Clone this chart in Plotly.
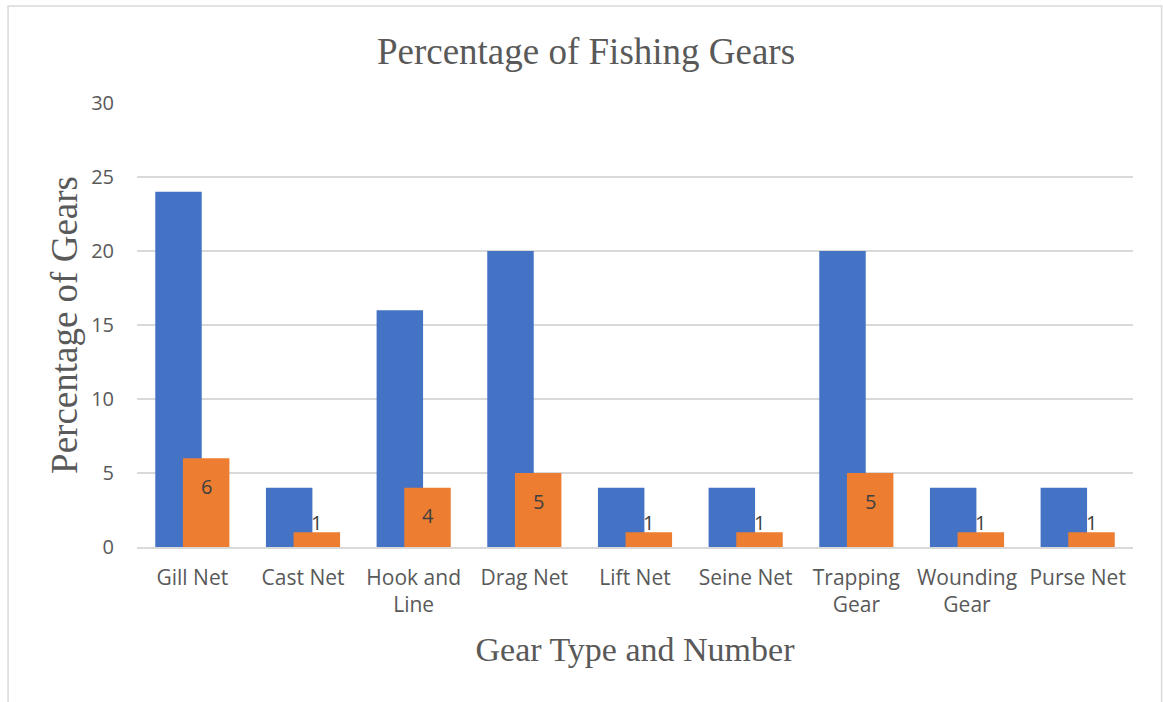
import plotly.graph_objects as go

# Fishing gear survey data
gear_types = ["Gill Net", "Cast Net", "Hook and<br>Line", "Drag Net", "Lift Net",
              "Seine Net", "Trapping<br>Gear", "Wounding<br>Gear", "Purse Net"]
percentages = [24, 4, 16, 20, 4, 4, 20, 4, 4]
gear_counts = [6, 1, 4, 5, 1, 1, 5, 1, 1]

BLUE = "#4472C4"
ORANGE = "#ED7D31"
GRID = "#D9D9D9"
TEXT = "#595959"

BAR_W = 0.42
BLUE_OFF = -0.335
ORANGE_OFF = BLUE_OFF + 2 * 0.335 - BAR_W  # right-aligned so the pair overlaps

fig = go.Figure()
fig.add_trace(go.Bar(
    x=gear_types, y=percentages, name="Percentage",
    marker=dict(color=BLUE, line=dict(width=0)),
    width=BAR_W, offset=BLUE_OFF, hoverinfo="x+y",
))
fig.add_trace(go.Bar(
    x=gear_types, y=gear_counts, name="Number",
    marker=dict(color=ORANGE, line=dict(width=0)),
    width=BAR_W, offset=ORANGE_OFF, hoverinfo="x+y",
))

# Count labels: inside near the top for tall bars, just above for short ones
orange_center_shift = (ORANGE_OFF + BAR_W / 2) * 110.67
for g, c in zip(gear_types, gear_counts):
    fig.add_annotation(
        x=g, y=c, xref="x", yref="y", text=str(c), showarrow=False,
        xshift=orange_center_shift, yshift=-28 if c > 1 else 10,
        font=dict(family="Open Sans", size=20, color="#404040"),
    )

# Light outer frame around the chart area
fig.add_shape(type="rect", xref="paper", yref="paper",
              x0=-0.1295, x1=1.0287, y0=-0.4, y1=1.2185,
              line=dict(color=GRID, width=1.5), fillcolor="rgba(0,0,0,0)", layer="below")

fig.update_layout(
    width=1163, height=702,
    barmode="overlay",
    showlegend=False,
    plot_bgcolor="white", paper_bgcolor="white",
    margin=dict(l=137, r=30, t=103, b=155),
    title=dict(
        text="Percentage of Fishing Gears",
        font=dict(family="Liberation Serif", size=37, color=TEXT),
        x=586 / 1163, xanchor="center", xref="container",
        y=1 - 51 / 702, yanchor="middle", yref="container",
    ),
    xaxis=dict(
        title=dict(text="Gear Type and Number",
                   font=dict(family="Liberation Serif", size=34, color=TEXT),
                   standoff=20),
        tickfont=dict(family="Open Sans", size=21, color=TEXT),
        showgrid=False, showline=True, linecolor=GRID, linewidth=1.5,
        ticks="", ticklabelstandoff=11,
    ),
    yaxis=dict(
        title=dict(text="Percentage of Gears",
                   font=dict(family="Liberation Serif", size=37, color=TEXT),
                   standoff=2),
        range=[0, 30], dtick=5,
        tickfont=dict(family="Open Sans", size=20, color=TEXT),
        showgrid=True, gridcolor=GRID, gridwidth=1.5,
        zeroline=False, ticks="", ticklabelstandoff=22,
    ),
)

fig.write_html("out.html")
